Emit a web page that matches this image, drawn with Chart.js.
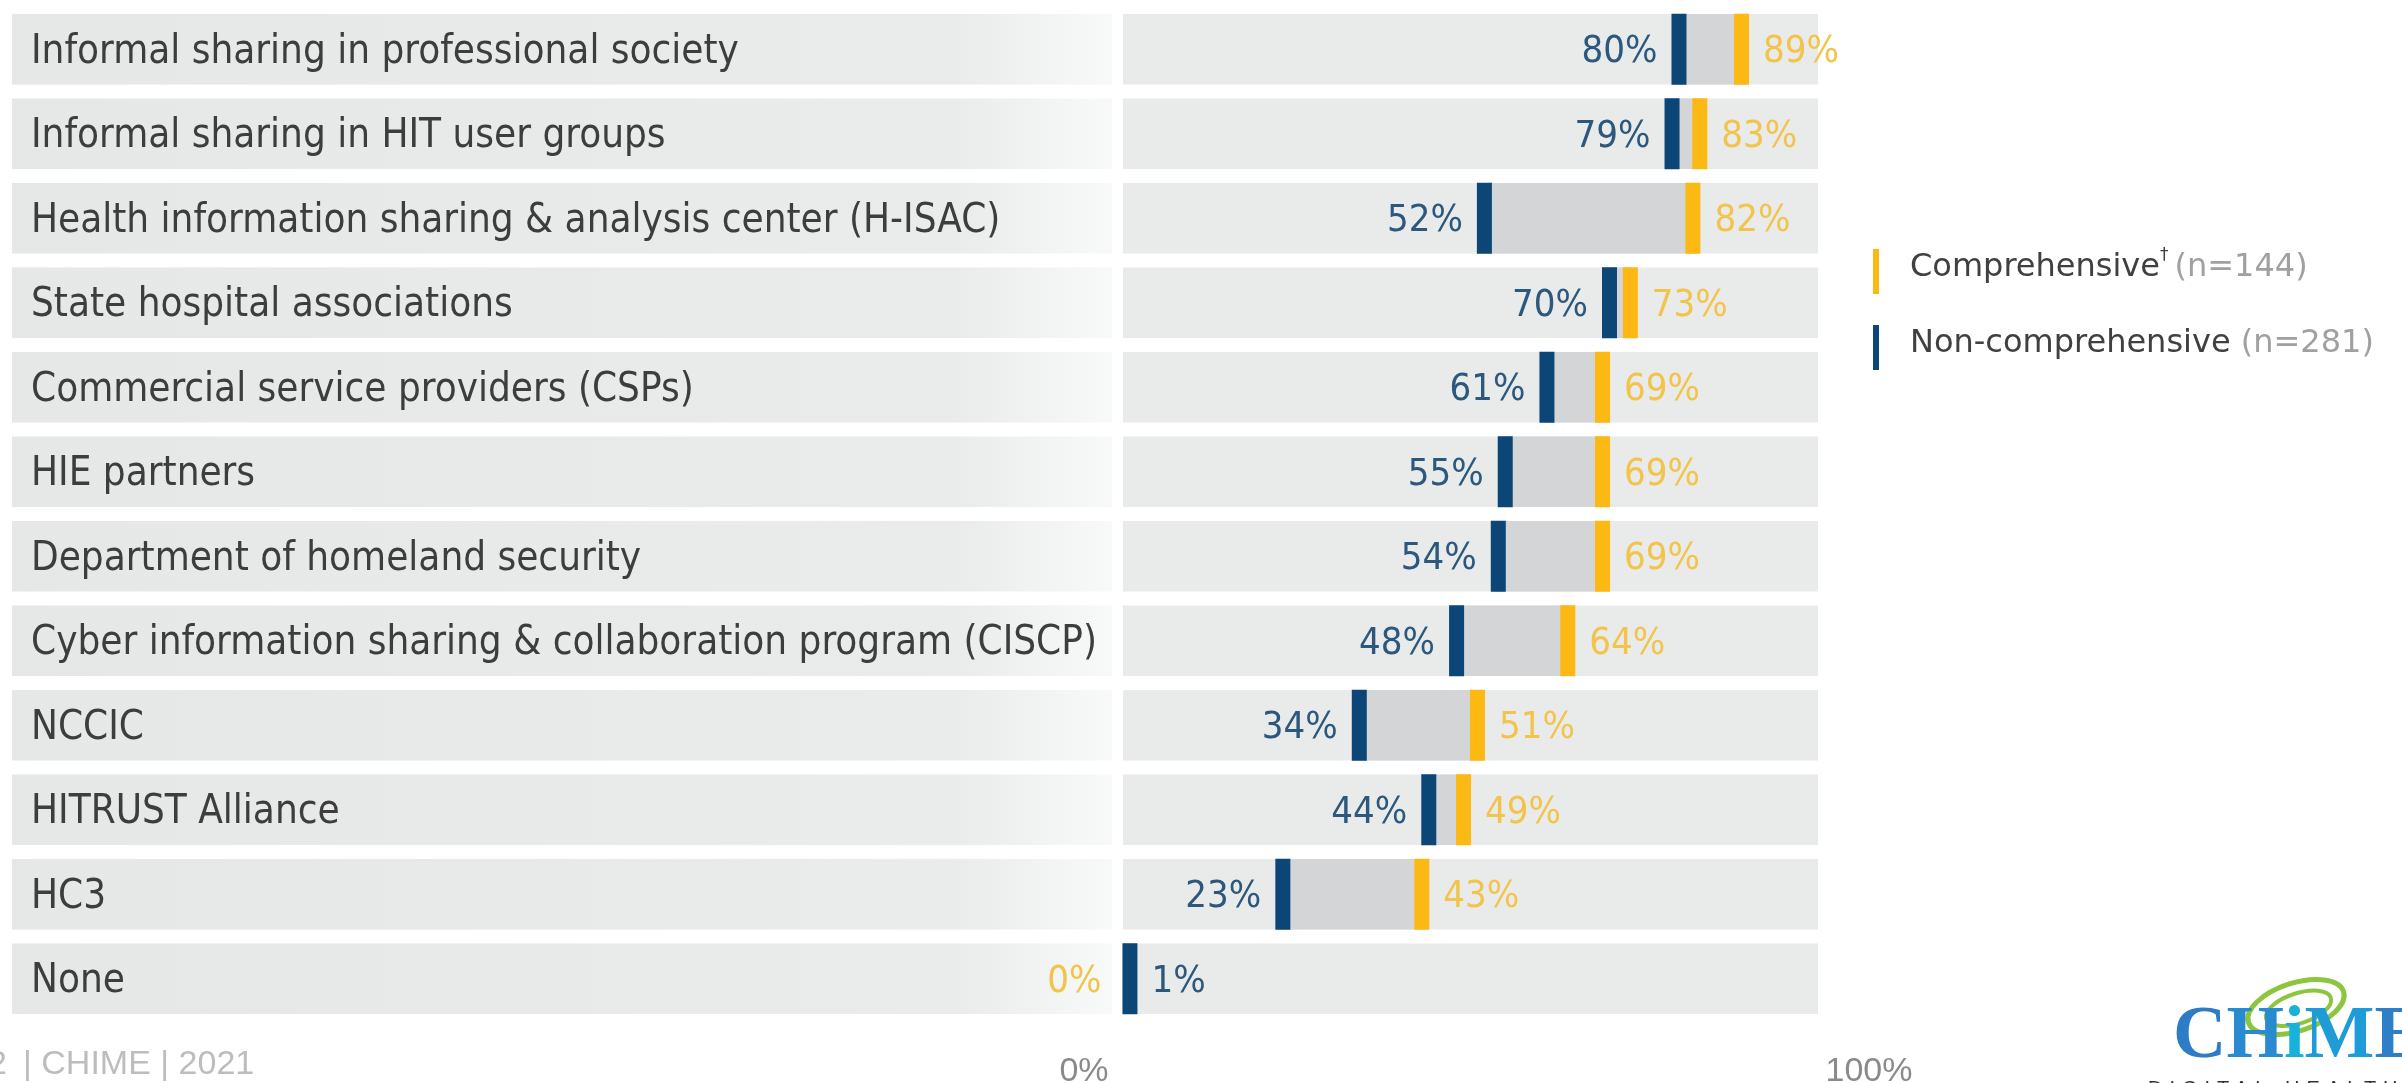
<!DOCTYPE html>
<html>
<head>
<meta charset="utf-8">
<script src="https://cdn.jsdelivr.net/npm/chart.js@4.4.0/dist/chart.umd.min.js"></script>
<style>
  html, body { margin: 0; padding: 0; background: #fff; }
  body { width: 2402px; height: 1083px; position: relative; overflow: hidden; }
  #wrap { position: absolute; left: 0; top: 0; width: 2402px; height: 1083px; }
  .legend-item { position: absolute; left: 1873px; height: 50px; display: flex; align-items: center;
    font-family: 'DejaVu Sans', Verdana, sans-serif; font-size: 32px; color: #404040; white-space: nowrap; }
  .legend-item .mark { width: 6px; height: 45px; margin-right: 31px; position: relative; top: 4px; }
  .legend-item .txt { position: relative; top: -2px; }
  .legend-item .n { color: #a0a0a0; }
  .legend-item sup { font-size: 17px; position: relative; top: -4px; margin-right: 6px; }
  .footer { position: absolute; top: 1042px; font-family: 'Liberation Sans Narrow', 'Liberation Sans', Arial, sans-serif;
    font-size: 34px; line-height: 40px; color: #bdbdbd; white-space: nowrap; }
  .logo { position: absolute; left: 2173px; top: 995px; font-family: 'Liberation Serif', 'DejaVu Serif', serif;
    font-weight: bold; font-size: 74px; line-height: 1; white-space: nowrap; }
  .tagline { position: absolute; left: 2148px; top: 1077px; font-family: 'Liberation Sans', Arial, sans-serif;
    font-size: 20px; letter-spacing: 7px; color: #333; white-space: nowrap; }
</style>
</head>
<body>
<div id="wrap"><canvas id="chart"></canvas></div>

<div class="legend-item" style="top:242px">
  <span class="mark" style="background:#fdb913"></span>
  <span class="txt">Comprehensive<sup>†</sup><span class="n">(n=144)</span></span>
</div>
<div class="legend-item" style="top:318px">
  <span class="mark" style="background:#0b4676"></span>
  <span class="txt">Non-comprehensive <span class="n">(n=281)</span></span>
</div>

<div class="footer" style="left:-12px">2</div>
<div class="footer" style="left:23px">| CHIME | 2021</div>

<svg style="position:absolute;left:2236px;top:962px" width="120" height="90">
  <g fill="none" stroke="#8cc63f" stroke-linecap="round" transform="rotate(-18 60 45)">
    <ellipse cx="60" cy="45" rx="50" ry="24" stroke-width="5"/>
    <ellipse cx="62" cy="47" rx="34" ry="15" stroke-width="4"/>
  </g>
</svg>
<div class="logo"><span style="color:#2f7cc6">C</span><span style="color:#2a8ad0">H</span><span style="color:#17b1d9">i</span><span style="color:#1f9cd7">M</span><span style="color:#2f7fc8">E</span></div>
<div class="tagline">DIGITAL HEALTH LEADERS</div>

<script>
// categories (top to bottom)
const categories = [
  'Informal sharing in professional society',
  'Informal sharing in HIT user groups',
  'Health information sharing & analysis center (H-ISAC)',
  'State hospital associations',
  'Commercial service providers (CSPs)',
  'HIE partners',
  'Department of homeland security',
  'Cyber information sharing & collaboration program (CISCP)',
  'NCCIC',
  'HITRUST Alliance',
  'HC3',
  'None'
];

// percent of respondents
const comprehensive    = [89, 83, 82, 73, 69, 69, 69, 64, 51, 49, 43, 0];
const nonComprehensive = [80, 79, 52, 70, 61, 55, 54, 48, 34, 44, 23, 1];

const axisTicks = [0, 100];

const blue = '#0b4676';
const yellow = '#fdb913';
const blueText = '#2b587c';
const yellowText = '#f2c44c';
const labelFont = '"DejaVu Sans Condensed", "DejaVu Sans", sans-serif';

// gray row backgrounds behind the category labels (drawn before the axes)
const labelBands = {
  id: 'labelBands',
  beforeDraw(chart) {
    const ctx = chart.ctx;
    const meta = chart.getDatasetMeta(0);
    const right = chart.scales.x.getPixelForValue(0) - 11;
    const grad = ctx.createLinearGradient(12, 0, right, 0);
    grad.addColorStop(0, '#e6e7e7');
    grad.addColorStop(0.86, '#eaebeb');
    grad.addColorStop(1, '#f8f9f9');
    ctx.save();
    ctx.fillStyle = grad;
    meta.data.forEach(bar => {
      ctx.fillRect(12, bar.y - bar.height / 2, right - 12, bar.height);
    });
    ctx.restore();
  }
};

// percentage labels next to each marker
const valueLabels = {
  id: 'valueLabels',
  afterDatasetsDraw(chart) {
    const ctx = chart.ctx;
    const yMeta = chart.getDatasetMeta(2);
    const bMeta = chart.getDatasetMeta(3);
    const off = 7.5 + 14;
    ctx.save();
    ctx.font = '38px ' + labelFont;
    ctx.textBaseline = 'middle';
    categories.forEach((c, i) => {
      const b = nonComprehensive[i], y = comprehensive[i];
      const bp = bMeta.data[i], yp = yMeta.data[i];
      const blueLeft = b <= y;
      ctx.fillStyle = blueText;
      ctx.textAlign = blueLeft ? 'right' : 'left';
      ctx.fillText(b + '%', bp.x + (blueLeft ? -off : off), bp.y + 3);
      ctx.fillStyle = yellowText;
      ctx.textAlign = blueLeft ? 'left' : 'right';
      ctx.fillText(y + '%', yp.x + (blueLeft ? off : -off), yp.y + 3);
    });
    ctx.restore();
  }
};

new Chart(document.getElementById('chart'), {
  type: 'bar',
  data: {
    labels: categories,
    datasets: [
      {
        label: 'row',
        data: categories.map(() => [0, 100]),
        backgroundColor: '#e9eaea',
        order: 4
      },
      {
        label: 'gap',
        data: categories.map((c, i) => [
          Math.min(comprehensive[i], nonComprehensive[i]),
          Math.max(comprehensive[i], nonComprehensive[i])
        ]),
        backgroundColor: '#d3d5d7',
        order: 3
      },
      {
        type: 'line',
        label: 'Comprehensive',
        data: comprehensive,
        indexAxis: 'y',
        showLine: false,
        pointStyle: 'line',
        pointRotation: 90,
        pointRadius: ctx => comprehensive[ctx.dataIndex] === 0 ? 0 : 35.5,
        pointBorderWidth: 15,
        pointBorderColor: yellow,
        pointBackgroundColor: yellow,
        clip: false,
        order: 2
      },
      {
        type: 'line',
        label: 'Non-comprehensive',
        data: nonComprehensive,
        indexAxis: 'y',
        showLine: false,
        pointStyle: 'line',
        pointRotation: 90,
        pointRadius: 35.5,
        pointBorderWidth: 15,
        pointBorderColor: blue,
        pointBackgroundColor: blue,
        clip: false,
        order: 1
      }
    ]
  },
  options: {
    indexAxis: 'y',
    responsive: true,
    maintainAspectRatio: false,
    animation: false,
    events: [],
    layout: { autoPadding: false, padding: { left: 31, right: 533, top: 7, bottom: 0 } },
    datasets: {
      bar: { grouped: false, barPercentage: 0.835, categoryPercentage: 1, borderWidth: 0 }
    },
    plugins: {
      legend: { display: false },
      tooltip: { enabled: false }
    },
    scales: {
      x: {
        display: false,
        min: -5.61,
        max: 107.34
      },
      x2: {
        type: 'linear',
        position: 'bottom',
        min: 0,
        max: 100,
        grid: { display: false, drawTicks: false },
        border: { display: false },
        afterBuildTicks: scale => { scale.ticks = axisTicks.map(v => ({ value: v })); },
        afterFit: scale => { scale.height = 62; scale.paddingLeft = 0; scale.paddingRight = 0; },
        ticks: {
          autoSkip: false,
          maxRotation: 0,
          padding: 30,
          color: '#8a8a8a',
          font: { family: '"Liberation Sans Narrow", "Liberation Sans", Arial, sans-serif', size: 34 },
          callback: v => v + '%'
        }
      },
      y: {
        grid: { display: false, drawTicks: false },
        border: { display: false },
        afterFit: scale => {
          scale.width = 1053;
          scale.paddingTop = 0;
          scale.paddingBottom = 0;
          // let long category names run past the axis box, as in the original
          scale._computeLabelArea = () => undefined;
        },
        ticks: {
          crossAlign: 'far',
          autoSkip: false,
          labelOffset: 3,
          color: '#3d3d3d',
          font: { family: labelFont, size: 40 }
        }
      }
    }
  },
  plugins: [labelBands, valueLabels]
});
</script>
</body>
</html>
